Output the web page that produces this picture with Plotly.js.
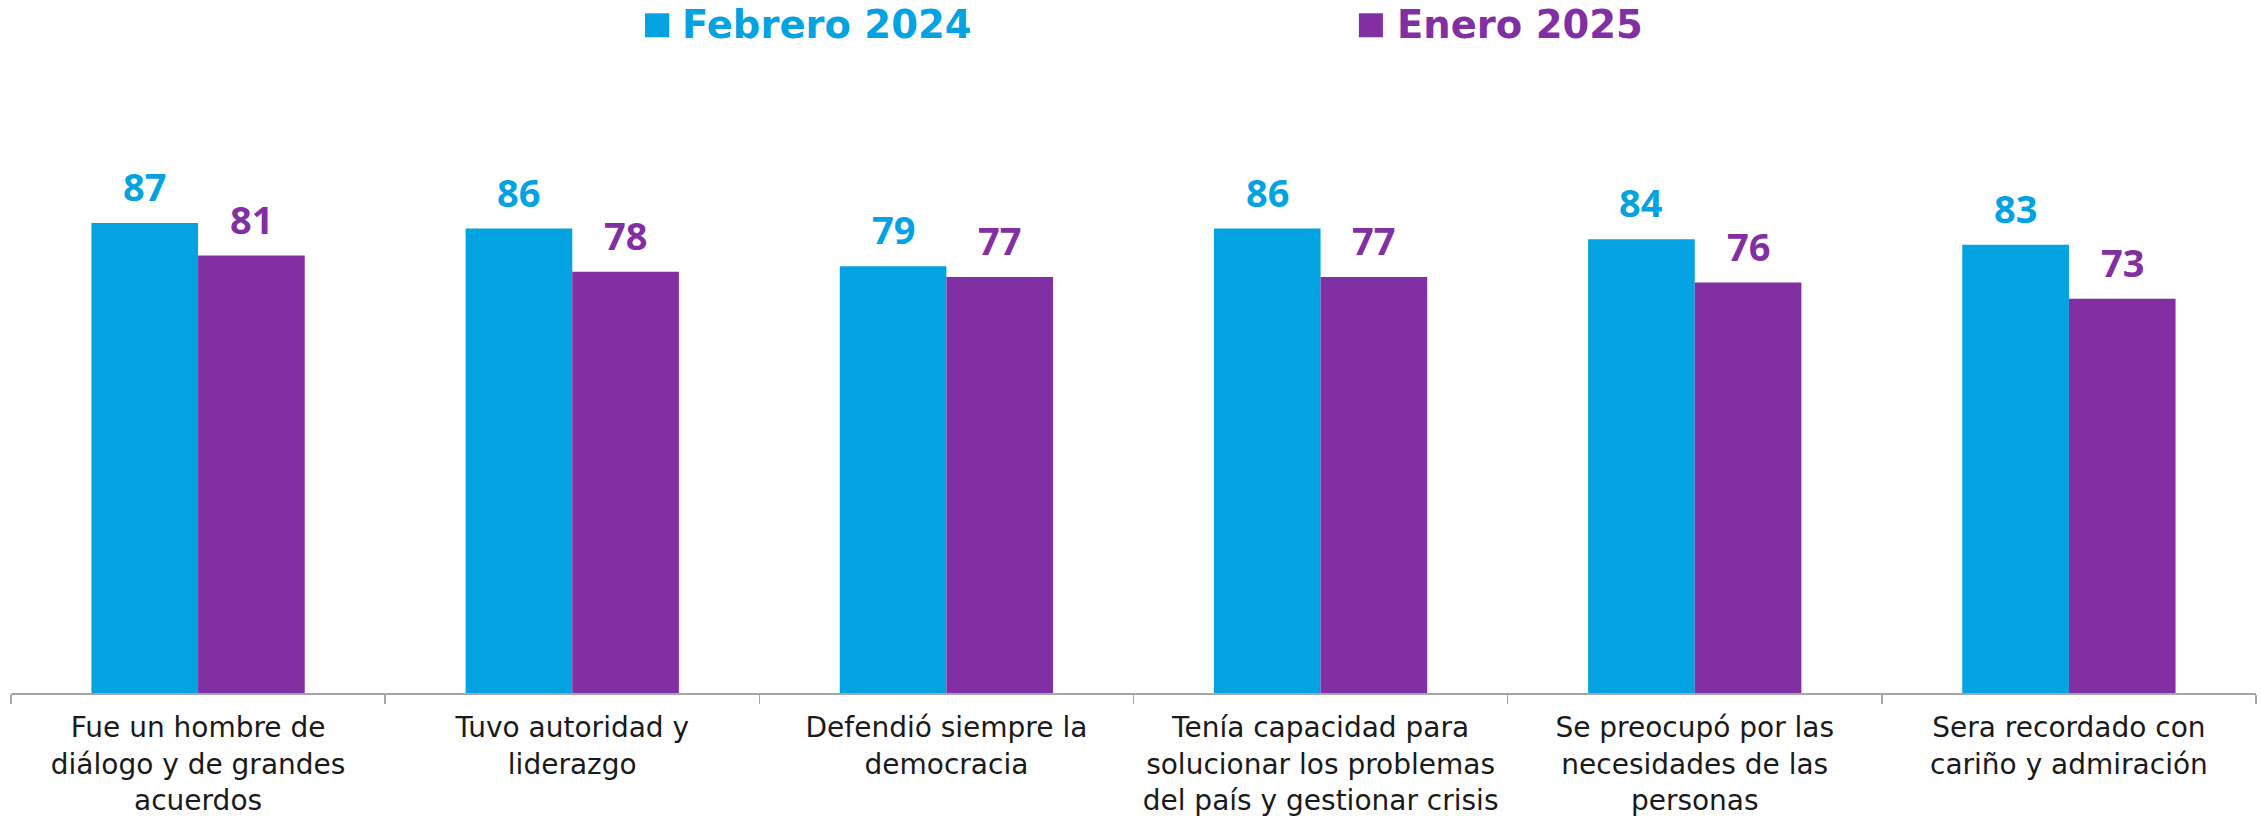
<!DOCTYPE html>
<html>
<head>
<meta charset="utf-8">
<script src="https://cdn.plot.ly/plotly-3.0.1.min.js"></script>
<style>
  html, body { margin: 0; padding: 0; background: #fff; }
  #chart { width: 2261px; height: 816px; }
</style>
</head>
<body>
<div id="chart"></div>
<script>
const categories = [
  "Fue un hombre de<br>diálogo y de grandes<br>acuerdos",
  "Tuvo autoridad y<br>liderazgo",
  "Defendió siempre la<br>democracia",
  "Tenía capacidad para<br>solucionar los problemas<br>del país y gestionar crisis",
  "Se preocupó por las<br>necesidades de las<br>personas",
  "Sera recordado con<br>cariño y admiración"
];
const seriesNames = ["Febrero 2024", "Enero 2025"];
const feb2024 = [87, 86, 79, 86, 84, 83];
const ene2025 = [81, 78, 77, 77, 76, 73];

const colors = ["#02A3E0", "#812FA3"];
const values = [feb2024, ene2025];
const numFont = "'Open Sans', 'DejaVu Sans', sans-serif";
const legFont = "'DejaVu Sans', sans-serif";
const tickFont = "'DejaVu Sans', sans-serif";

const traces = values.map((vals, i) => ({
  type: "bar",
  name: seriesNames[i],
  x: categories,
  y: vals,
  marker: { color: colors[i], line: { width: 0 } },
  hoverinfo: "x+y+name"
}));

// value labels above each bar (shifted onto the bar of each group)
const halfBar = 53.3;
const annotations = [];
values.forEach((vals, i) => {
  vals.forEach((v, j) => {
    annotations.push({
      x: categories[j], y: v, xref: "x", yref: "y",
      text: String(v),
      showarrow: false,
      xanchor: "center", yanchor: "bottom",
      xshift: i === 0 ? -halfBar : halfBar,
      yshift: 9,
      font: { family: numFont, size: 38, color: colors[i], weight: 700 }
    });
  });
});

// custom legend on top
const legendX = [0.2980, 0.6165];
const squareX = [[0.2824, 0.2932], [0.6004, 0.6111]];
const shapes = [];
seriesNames.forEach((name, i) => {
  annotations.push({
    x: legendX[i], y: 1.0553, xref: "paper", yref: "paper",
    text: name, showarrow: false,
    xanchor: "left", yanchor: "middle",
    font: { family: legFont, size: 38.5, color: colors[i], weight: 700 }
  });
  shapes.push({
    type: "rect", xref: "paper", yref: "paper",
    x0: squareX[i][0], x1: squareX[i][1], y0: 1.0359, y1: 1.0738,
    fillcolor: colors[i], line: { width: 0 }
  });
});

const layout = {
  width: 2261,
  height: 816,
  margin: { l: 11, r: 5, t: 60, b: 123 },
  paper_bgcolor: "#fff",
  plot_bgcolor: "#fff",
  barmode: "group",
  bargap: 0.43,
  bargroupgap: 0,
  showlegend: false,
  font: { family: numFont, color: "#1a1a1a" },
  xaxis: {
    type: "category",
    showline: true,
    linecolor: "#a6a6a6",
    linewidth: 1.5,
    ticks: "outside",
    tickson: "boundaries",
    ticklen: 9,
    tickcolor: "#a6a6a6",
    tickwidth: 1.5,
    ticklabelstandoff: 9,
    tickfont: { family: tickFont, size: 28, color: "#1a1a1a" },
    fixedrange: true
  },
  yaxis: {
    range: [0, 117.2],
    visible: false,
    showgrid: false,
    zeroline: false,
    fixedrange: true
  },
  annotations: annotations,
  shapes: shapes
};

Plotly.newPlot("chart", traces, layout, { displayModeBar: false, staticPlot: true });
</script>
</body>
</html>
